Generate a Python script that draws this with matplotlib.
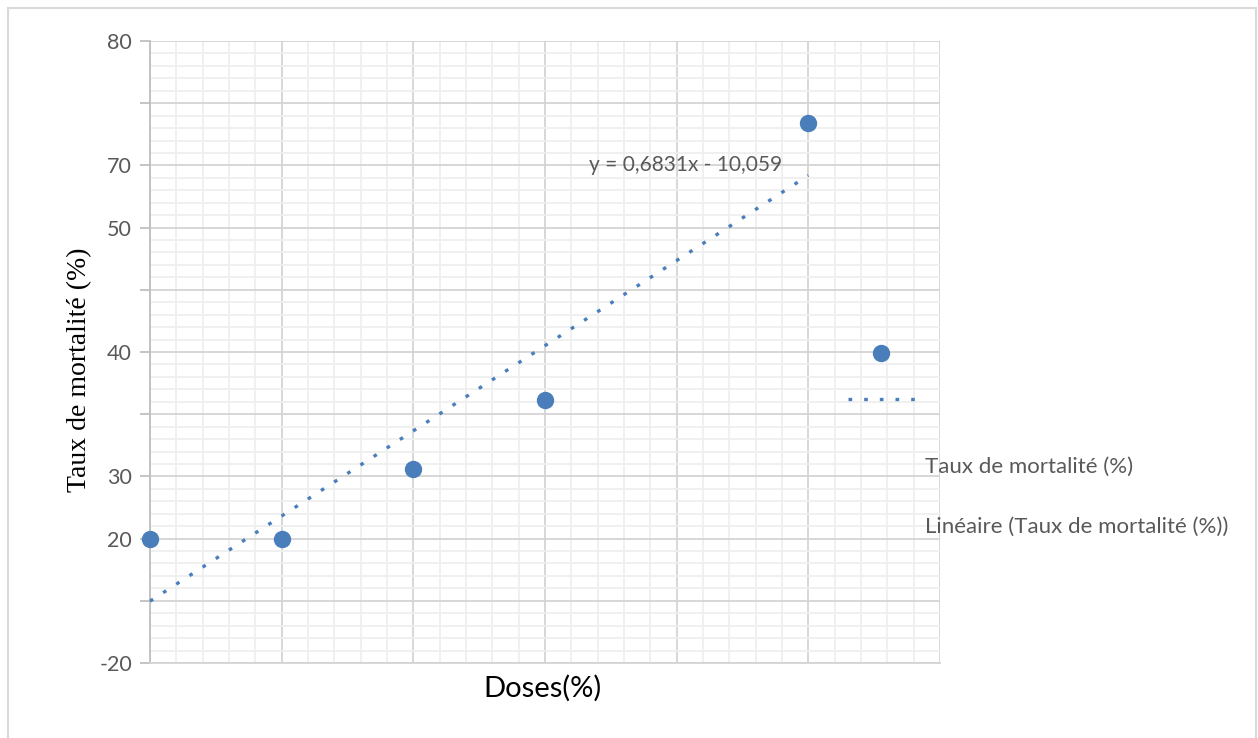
import numpy as np
import matplotlib
matplotlib.use("Agg")
import matplotlib.pyplot as plt
from matplotlib.patches import Rectangle
from matplotlib.lines import Line2D

# Doses (position along the dose axis) and mortality rate (position on the rate axis)
doses = [0, 1, 2, 3, 5, 5.55]
mortality = [2.0, 2.0, 3.12, 4.23, 8.68, 4.98]

# Rate axis: tick positions and the labels printed next to them
y_tick_pos = [0, 1, 2, 3, 4, 5, 6, 7, 8, 9, 10]
y_tick_labels = ["-20", "", "20", "30", "", "40", "", "50", "70", "", "80"]

equation = "y = 0,6831x - 10,059"
series_name = "Taux de mortalité (%)"
trend_name = "Linéaire (Taux de mortalité (%))"

W, H = 1258, 738
fig = plt.figure(figsize=(W / 100, H / 100), dpi=100)
fig.patch.set_facecolor("white")

# light outer frame
fig.add_artist(Rectangle((8 / W, -0.05), (1256 - 8) / W, 1.05 - 8 / H,
                         transform=fig.transFigure, fill=False,
                         edgecolor="#d9d9d9", linewidth=1.5))

left, right, top, bottom = 150, 940, 41, 663
ax = fig.add_axes([left / W, 1 - bottom / H, (right - left) / W, (bottom - top) / H])
ax.set_xlim(0, 6)
ax.set_ylim(0, 10)

blue = "#4a7ebb"
grey_text = "#595959"

# grid: majors every unit, five minor divisions
ax.set_xticks(np.arange(0, 7, 1))
ax.set_xticks(np.arange(0, 6.01, 0.2), minor=True)
ax.set_yticks(y_tick_pos)
ax.set_yticks(np.arange(0, 10.01, 0.2), minor=True)
ax.set_yticklabels(y_tick_labels)
ax.set_xticklabels([])
ax.grid(which="minor", color="#efefef", linewidth=1.3)
ax.grid(which="major", color="#d4d4d4", linewidth=1.3)
ax.set_axisbelow(True)
ax.tick_params(axis="x", which="both", length=0)
ax.tick_params(axis="y", which="minor", length=0)
ax.tick_params(axis="y", which="major", length=7, width=1.3, color="#bfbfbf",
               labelsize=15.5, labelcolor=grey_text, pad=6)
for lab in ax.get_yticklabels():
    lab.set_fontfamily("Lato")

for s in ["top", "right"]:
    ax.spines[s].set_visible(False)
ax.spines["left"].set_color("#bfbfbf")
ax.spines["left"].set_linewidth(1.3)
ax.spines["bottom"].set_color("#d4d4d4")
ax.spines["bottom"].set_linewidth(1.3)

# linear trend through the first five measurements
fit_x = np.array(doses[:5])
fit_y = np.array(mortality[:5])
slope, intercept = np.polyfit(fit_x, fit_y, 1)
tx = np.array([fit_x.min(), fit_x.max()])
ax.plot(tx, slope * tx + intercept, color=blue, linewidth=2.4,
        dashes=(1.1, 3.6), dash_capstyle="butt", zorder=3, clip_on=False)

ax.plot(doses, mortality, "o", color=blue, markersize=11.5, zorder=4, clip_on=False)

ax.text(686 / W, 1 - 165 / H, equation, transform=fig.transFigure,
        ha="center", va="center", fontsize=15, color=grey_text, family="Lato")

# legend entries
fig.add_artist(Line2D([848 / W, 916 / W], [1 - 399 / H] * 2, transform=fig.transFigure,
                      color=blue, linewidth=2.4, dashes=(1.1, 3.6), dash_capstyle="butt"))
fig.text(925 / W, 1 - 467 / H, series_name, ha="left", va="center",
         fontsize=16, color=grey_text, family="Lato")
fig.text(925 / W, 1 - 527 / H, trend_name, ha="left", va="center",
         fontsize=16, color=grey_text, family="Lato")

fig.text(80 / W, 1 - 370 / H, series_name, rotation=90, ha="center", va="center",
         fontsize=20, color="black", family="Liberation Serif")
fig.text(542 / W, 1 - 688 / H, "Doses(%)", ha="center", va="center",
         fontsize=21, color="black", family="Lato")

fig.savefig("out.png", dpi=100)
